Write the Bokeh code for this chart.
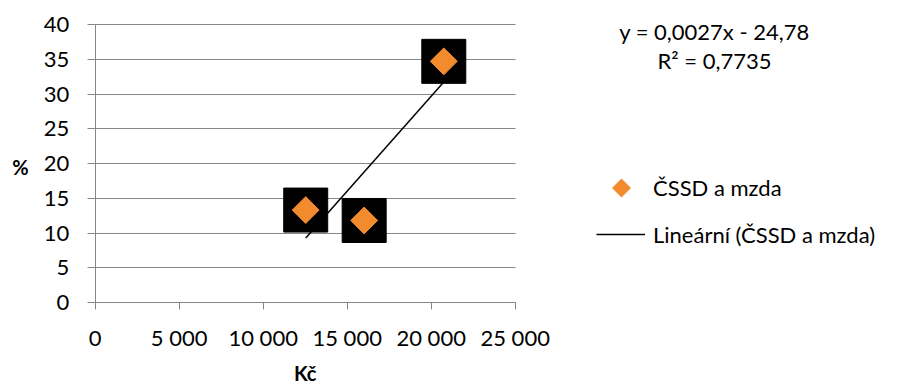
import numpy as np
from bokeh.plotting import figure
from bokeh.models import Range1d, FixedTicker, Legend, LegendItem, Label
from bokeh.embed import file_html
from bokeh.resources import INLINE

# ---- data ----
wage_czk = [12530, 16010, 20750]          # Kč
cssd_pct = [13.3, 11.8, 34.7]             # %
x_ticks = [0, 5000, 10000, 15000, 20000, 25000]
x_tick_labels = ["0", "5 000", "10 000", "15 000", "20 000", "25 000"]
y_ticks = [0, 5, 10, 15, 20, 25, 30, 35, 40]
x_bounds = (0, 25000)
y_bounds = (0, 40)
series_name = "ČSSD a mzda"
trend_name = "Lineární (ČSSD a mzda)"
equation_text = "y = 0,0027x - 24,78"
r2_text = "R² = 0,7735"
x_label = "Kč"
y_label = "%"

# ---- layout / style ----
FONT = "Lato"
GRID = "#868686"
ORANGE = "#F28A2E"
W, H = 900, 385
X0_PX, PX_PER_X = 94.7, 84.0 / 5000     # screen x of x=0, px per Kč
Y0_PX, PX_PER_Y = 302.0, 278.0 / 40     # screen y of y=0, px per %
LEGEND_KEY_PX = (621.0, 187.5)           # centre of the legend's diamond key


def px_to_data(sx, sy):
    return (sx - X0_PX) / PX_PER_X, (Y0_PX - sy) / PX_PER_Y


# linear trend line fitted to the series, drawn between min and max x
slope, intercept = np.polyfit(wage_czk, cssd_pct, 1)
trend_x = [min(wage_czk), max(wage_czk)]
trend_y = [slope * v + intercept for v in trend_x]

p = figure(width=W, height=H, output_backend="svg", toolbar_location=None,
           x_range=Range1d(-X0_PX / PX_PER_X, (W - X0_PX) / PX_PER_X),
           y_range=Range1d(-(H - Y0_PX) / PX_PER_Y, Y0_PX / PX_PER_Y),
           min_border=0)
p.outline_line_color = None
p.background_fill_color = "white"
p.border_fill_color = "white"

p.xgrid.visible = False
p.ygrid.ticker = FixedTicker(ticks=y_ticks)
p.ygrid.grid_line_color = GRID
p.ygrid.grid_line_width = 1
if "cross_bounds" in p.ygrid[0].properties():
    p.ygrid.cross_bounds = x_bounds
    p.ygrid.bounds = y_bounds
else:
    p.ygrid.visible = False
    p.segment(x0=[x_bounds[0]] * len(y_ticks), x1=[x_bounds[1]] * len(y_ticks),
              y0=y_ticks, y1=y_ticks, line_color=GRID, line_width=1)

for ax in (p.xaxis[0], p.yaxis[0]):
    ax.fixed_location = 0
    ax.axis_line_color = GRID
    ax.major_tick_line_color = GRID
    ax.minor_tick_line_color = None
    ax.major_tick_in = 0
    ax.major_label_text_font = FONT
    ax.major_label_text_font_size = "22px"
    ax.major_label_text_color = "black"

p.xaxis.bounds = x_bounds
p.xaxis.ticker = FixedTicker(ticks=x_ticks)
p.xaxis.major_label_overrides = {t: l for t, l in zip(x_ticks, x_tick_labels)}
p.xaxis.major_tick_out = 7
p.xaxis.major_label_standoff = 14

p.yaxis.bounds = y_bounds
p.yaxis.ticker = FixedTicker(ticks=y_ticks)
p.yaxis.major_tick_out = 8
p.yaxis.major_label_standoff = 18

trend = p.line(trend_x, trend_y, line_color="black", line_width=1.5)
p.scatter(wage_czk, cssd_pct, marker="square", size=44,
          fill_color="black", line_color="black")
p.scatter(wage_czk, cssd_pct, marker="square", angle=np.pi / 4, size=19,
          fill_color=ORANGE, line_color=ORANGE)

# legend: the diamond key is drawn as a rotated square (Bokeh legends draw markers unrotated)
kx, ky = px_to_data(*LEGEND_KEY_PX)
p.scatter([kx], [ky], marker="square", angle=np.pi / 4, size=12.7,
          fill_color=ORANGE, line_color=ORANGE)
series_proxy = p.scatter(x=[], y=[], marker="square", fill_alpha=0, line_alpha=0)

legend = Legend(items=[LegendItem(label=series_name, renderers=[series_proxy]),
                       LegendItem(label=trend_name, renderers=[trend])],
                location=(596, H - 250), orientation="vertical",
                glyph_width=49, glyph_height=32, label_height=32,
                label_standoff=8, spacing=15, padding=0, margin=0,
                border_line_color=None, background_fill_alpha=0,
                label_text_font=FONT, label_text_font_size="22px",
                label_text_color="black")
p.add_layout(legend)


def screen_label(text, sx, sy_center, size="22px", style="normal"):
    return Label(x=sx, y=H - sy_center, x_units="screen", y_units="screen", text=text,
                 text_align="center", text_baseline="middle", text_font=FONT,
                 text_font_style=style, text_font_size=size, text_color="black")


p.add_layout(screen_label(equation_text, 714, 30.5))
p.add_layout(screen_label(r2_text, 714, 59.5))
p.add_layout(screen_label(y_label, 20, 166, "20px", "bold"))
p.add_layout(screen_label(x_label, 304.7, 372, "20px", "bold"))

open("out.html", "w").write(file_html(p, INLINE))
